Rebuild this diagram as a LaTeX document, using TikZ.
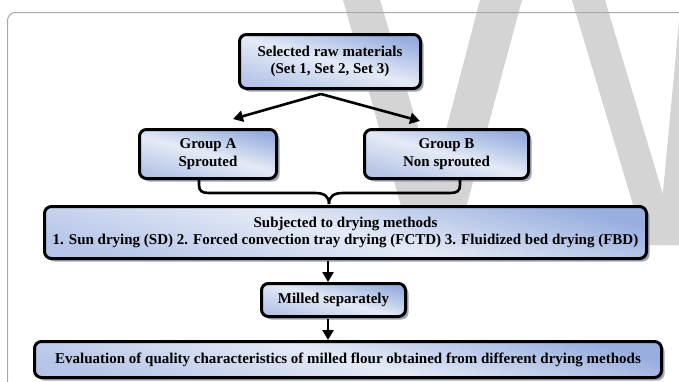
\documentclass[tikz,border=0pt]{standalone}
\usepackage{fontspec}
\setmainfont{Liberation Serif}
\usetikzlibrary{arrows.meta,shadows}

\definecolor{wm}{HTML}{D4D4D4}
\definecolor{framec}{HTML}{A8A8A8}
\definecolor{bdark}{HTML}{98AEDF}
\definecolor{blight}{HTML}{E4EAF6}
\definecolor{bmid}{HTML}{B6C5E8}
\definecolor{shad}{HTML}{8E97AB}

\begin{document}
\begin{tikzpicture}[x=1pt,y=-1pt,
  box/.style={draw=black, line width=3pt, rounded corners=7pt, inner sep=0pt,
    align=center, font=\bfseries\fontsize{15}{17.5}\selectfont,
    top color=bdark, bottom color=bmid, middle color=blight, shading angle=-15,
    drop shadow={shadow xshift=3pt, shadow yshift=-3pt, fill=shad, opacity=0.85}},
  arr/.style={line width=2.6pt, -{Triangle[length=10pt,width=11pt]}},
  bracel/.style={line width=2.6pt}
]
\useasboundingbox (0,0) rectangle (679,381);
\clip (0,0) rectangle (679,381);
\fill[white] (0,0) rectangle (679,381);

% watermark
\fill[wm] (343,0) -- (380,0) -- (453,245) -- (412,245) -- cycle;
\fill[wm] (480,0) -- (522,0) -- (456,245) -- (416,245) -- cycle;
\fill[wm] (572,0) -- (605,0) -- (678,245) -- (645,245) -- cycle;
\fill[wm] (681,0) -- (760,0) -- (720,245) -- (658,245) -- cycle;

% frame
\draw[framec, line width=1pt, rounded corners=8pt] (700,12.5) -- (7.5,12.5) -- (7.5,400);

% boxes
\node[box, minimum width=181pt, minimum height=54pt] (sel) at (330,61.5)
  {Selected raw materials\\(Set 1, Set 2, Set 3)};
\node[box, minimum width=137pt, minimum height=49pt] (ga) at (208,154)
  {Group A\\Sprouted};
\node[box, minimum width=164pt, minimum height=49pt] (gb) at (446.5,154)
  {Group B\\Non sprouted};
\node[box, minimum width=602pt, minimum height=52pt] (dry) at (345.5,232.5)
  {Subjected to drying methods\\1. Sun drying (SD) 2. Forced convection tray drying (FCTD) 3. Fluidized bed drying (FBD)};
\node[box, minimum width=144pt, minimum height=33pt] (mil) at (333.5,300)
  {Milled separately};
\node[box, minimum width=627pt, minimum height=36pt] (ev) at (348,359.5)
  {Evaluation of quality characteristics of milled flour obtained from different drying methods};

% arrows from selected
\coordinate (apex) at (321,94);
\coordinate (ta) at (233,119);
\coordinate (tb) at (420,121);
\draw[arr] (apex) -- (ta);
\draw[arr] (apex) -- (tb);

% brace
\coordinate (bl) at (199,180);
\coordinate (br) at (460,180);
\coordinate (cusp) at (329,204);
\draw[bracel] (bl) -- (199,185) .. controls (199,191) and (202,193) .. (209,193)
  -- (315,193) .. controls (324,193) and (329,196) .. (cusp);
\draw[bracel] (br) -- (460,185) .. controls (460,191) and (457,193) .. (450,193)
  -- (343,193) .. controls (334,193) and (329,196) .. (cusp);

% vertical arrows
\coordinate (v1) at (328,261);
\coordinate (v2) at (328,319);
\draw[arr] (v1) -- (v1 |- mil.north);
\draw[arr] (v2) -- (v2 |- ev.north);
\end{tikzpicture}
\end{document}
